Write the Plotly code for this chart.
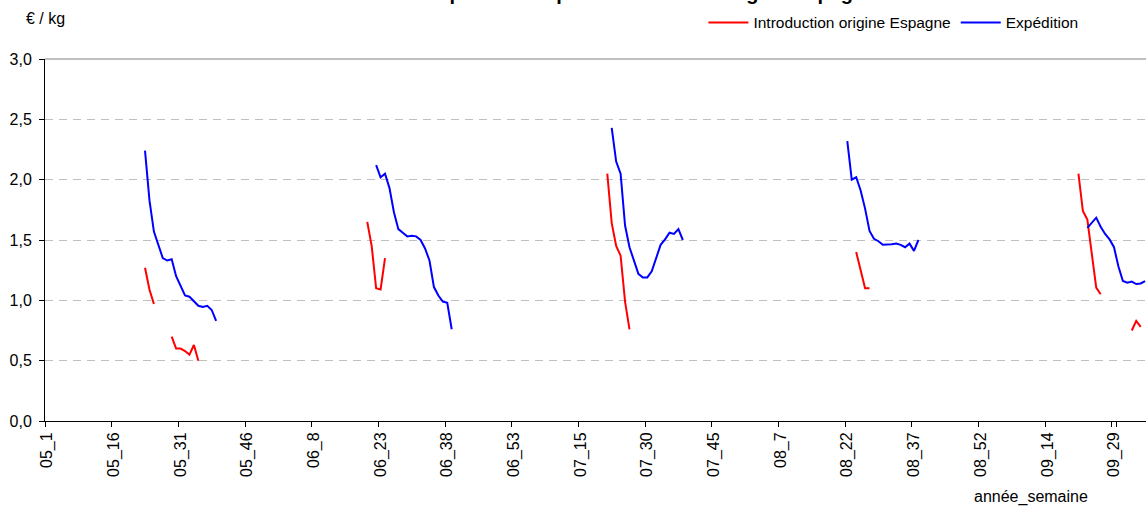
import pandas as pd
import plotly.graph_objects as go

# ── Style ──────────────────────────────────────────────────────────────────────
RED = "#FF0000"
BLUE = "#0000FF"
GRID_COLOR = "#C0C0C0"
FONT = "Liberation Sans, Arial, sans-serif"

# ── Categories: année_semaine, 53 weeks per year ───────────────────────────────
YEARS = ["05", "06", "07", "08", "09"]
WEEKS = [f"{y}_{w}" for y in YEARS for w in range(1, 54)]
TICK_LABELS = WEEKS[::15]

# ── Data (€/kg), each segment = (first week, weekly values) ───────────────────
EXP_2005 = ("05_23", [2.24, 1.83, 1.57, 1.46, 1.35, 1.33, 1.34, 1.20, 1.12, 1.04,
                      1.03, 0.99, 0.955, 0.945, 0.955, 0.92, 0.83])
EXP_2006 = ("06_22", [2.12, 2.02, 2.05, 1.93, 1.73, 1.59, 1.56, 1.53, 1.535, 1.53,
                      1.50, 1.43, 1.33, 1.11, 1.04, 0.99, 0.98, 0.76])
EXP_2007 = ("07_22", [2.43, 2.15, 2.05, 1.62, 1.44, 1.32, 1.22, 1.19, 1.19, 1.24,
                      1.35, 1.46, 1.505, 1.56, 1.55, 1.59, 1.50])
EXP_2008 = ("08_22", [2.32, 2.00, 2.02, 1.91, 1.76, 1.575, 1.51, 1.49, 1.46, 1.46,
                      1.465, 1.47, 1.46, 1.44, 1.47, 1.41, 1.50])
EXP_2009 = ("09_23", [1.60, 1.64, 1.685, 1.61, 1.55, 1.505, 1.44, 1.28, 1.16, 1.146,
                      1.155, 1.135, 1.14, 1.16])

INTRO_2005A = ("05_23", [1.27, 1.09, 0.97])
INTRO_2005B = ("05_29", [0.70, 0.60, 0.60, 0.58, 0.55, 0.63, 0.50])
INTRO_2006 = ("06_20", [1.65, 1.45, 1.10, 1.09, 1.35])
INTRO_2007 = ("07_21", [2.05, 1.64, 1.45, 1.37, 0.99, 0.76])
INTRO_2008 = ("08_24", [1.40, 1.25, 1.10, 1.10])
INTRO_2009A = ("09_21", [2.05, 1.74, 1.67, 1.39, 1.105, 1.05])
INTRO_2009B = ("09_33", [0.75, 0.83, 0.78])


def to_series(segments):
    s = pd.Series(float("nan"), index=WEEKS)
    for start, vals in segments:
        i = WEEKS.index(start)
        s.iloc[i:i + len(vals)] = vals
    return s


intro = to_series([INTRO_2005A, INTRO_2005B, INTRO_2006, INTRO_2007,
                   INTRO_2008, INTRO_2009A, INTRO_2009B])
expe = to_series([EXP_2005, EXP_2006, EXP_2007, EXP_2008, EXP_2009])

fig = go.Figure()
fig.add_trace(go.Scatter(
    name="Introduction origine Espagne", x=WEEKS, y=intro.tolist(),
    mode="lines", line=dict(color=RED, width=2), connectgaps=False,
))
fig.add_trace(go.Scatter(
    name="Expédition", x=WEEKS, y=expe.tolist(),
    mode="lines", line=dict(color=BLUE, width=2), connectgaps=False,
))

fig.update_layout(
    width=1146, height=511,
    margin=dict(l=45, r=0, t=59, b=90, autoexpand=False),
    paper_bgcolor="white", plot_bgcolor="white",
    font=dict(family=FONT, color="black", size=16),
    separators=", ",
    showlegend=True,
    legend=dict(
        orientation="h", x=0.598, xanchor="left", y=1.1, yanchor="middle",
        bgcolor="rgba(0,0,0,0)", font=dict(size=15.5), itemwidth=40,
    ),
    xaxis=dict(
        type="category", categoryorder="array", categoryarray=WEEKS,
        range=[-0.5, 247.2], automargin=False,
        tickmode="array", tickvals=TICK_LABELS, ticktext=TICK_LABELS,
        tickangle=-90, tickson="boundaries", ticklabelstandoff=4,
        ticks="outside", ticklen=5, tickcolor="black",
        showline=True, linecolor="black", linewidth=1,
        showgrid=False, zeroline=False,
        tickfont=dict(size=16),
    ),
    yaxis=dict(
        range=[0, 3], dtick=0.5, tickformat=".1f", automargin=False,
        ticks="outside", ticklen=5, tickcolor="black", ticklabelstandoff=4,
        showline=True, linecolor="black", linewidth=1,
        showgrid=True, gridcolor=GRID_COLOR, griddash="8px,6px", gridwidth=1,
        zeroline=False, tickfont=dict(size=16),
    ),
    shapes=[dict(type="line", xref="paper", yref="paper", x0=0, x1=1, y0=1, y1=1,
                 line=dict(color="#808080", width=1))],
    annotations=[
        # title, mostly cut off by the top edge as in the original export
        dict(text="<b>Prix expédition et prix introduction origine Espagne</b>",
             xref="paper", yref="paper", x=0.531, y=1.182,
             xanchor="center", yanchor="middle", showarrow=False, font=dict(size=20)),
        dict(text="€ / kg", xref="paper", yref="paper", x=0, y=1.113,
             xanchor="center", yanchor="middle", showarrow=False, font=dict(size=16)),
        dict(text="année_semaine", xref="paper", yref="paper", x=0.8955, y=-0.21,
             xanchor="center", yanchor="middle", showarrow=False, font=dict(size=16)),
    ],
)

# page body has a default 8px margin; drop it so the figure fills the window
fig.write_html(
    "out.html",
    config={"displayModeBar": False},
    post_script="document.body.style.margin = '0px';",
)
